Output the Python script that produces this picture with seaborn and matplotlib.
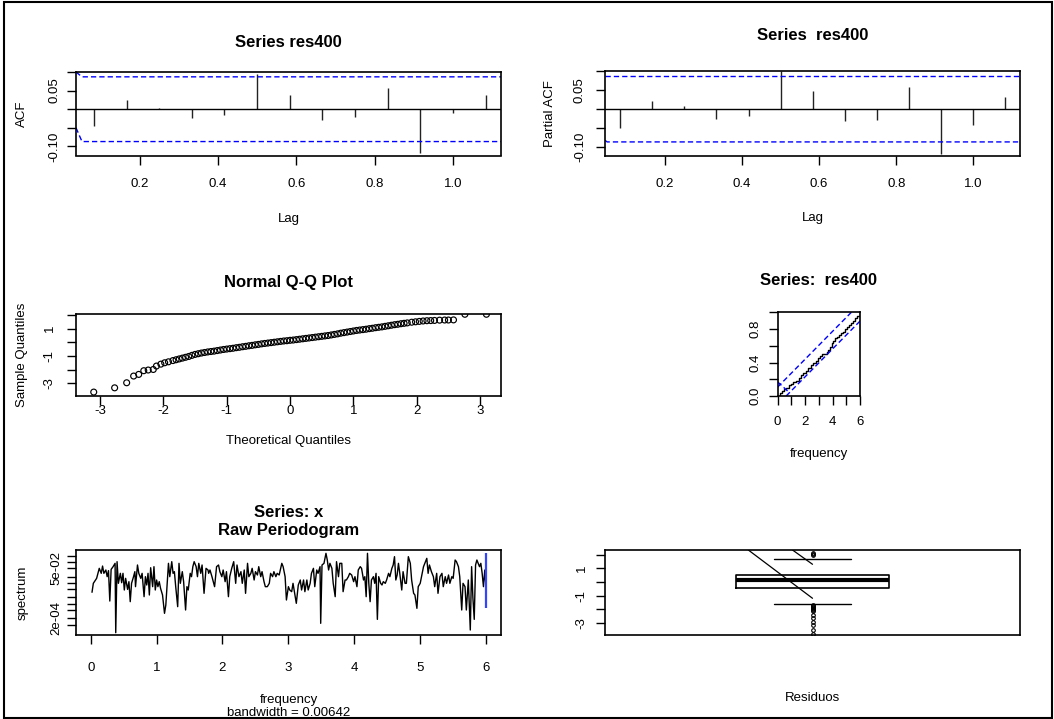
import numpy as np
import pandas as pd
import matplotlib
matplotlib.use("Agg")
import matplotlib.pyplot as plt
import seaborn as sns
from matplotlib.patches import Rectangle

# ---------------- data ----------------
# ACF / PACF of the residuals (monthly series, lag axis in years)
lag_steps = [1, 2, 3, 4, 5, 6, 7, 8, 9, 10, 11, 12, 13]
acf_values = [-0.045, 0.025, 0.004, -0.024, -0.015, 0.095, 0.037, -0.028,
              -0.021, 0.056, -0.117, -0.011, 0.038]
pacf_values = [-0.051, 0.022, 0.007, -0.025, -0.018, 0.100, 0.047, -0.032,
               -0.030, 0.059, -0.118, -0.041, 0.033]
ci_bound = 0.087
# confidence lines as drawn (slanted start, then flat)
ci_upper_x = [0.0377, 0.053, 1.2]
ci_upper_y = [0.100, ci_bound, ci_bound]
ci_lower_x = [0.0377, 0.053, 1.2]
ci_lower_y = [-0.050, -ci_bound, -ci_bound]
pci_lower_x = [0.0443, 0.050, 1.2]
pci_lower_y = [-0.083, -ci_bound, -ci_bound]

# Normal Q-Q: theoretical vs sample quantiles
qq_theoretical = [-3.10, -2.77, -2.58, -2.47, -2.39, -2.31, -2.24, -2.16, -2.11, -2.04, -1.98, -1.92,
                  -1.85, -1.80, -1.75, -1.70, -1.65, -1.60, -1.55, -1.50, -1.45, -1.40, -1.35, -1.30,
                  -1.25, -1.20, -1.15, -1.10, -1.05, -1.00, -0.95, -0.90, -0.85, -0.80, -0.75, -0.70,
                  -0.65, -0.60, -0.55, -0.50, -0.45, -0.40, -0.35, -0.30, -0.25, -0.20, -0.15, -0.10,
                  -0.05, 0.00, 0.05, 0.10, 0.15, 0.20, 0.25, 0.30, 0.35, 0.40, 0.45, 0.50, 0.55, 0.60,
                  0.65, 0.70, 0.75, 0.80, 0.85, 0.90, 0.95, 1.00, 1.05, 1.10, 1.15, 1.20, 1.25, 1.30,
                  1.35, 1.40, 1.45, 1.50, 1.55, 1.60, 1.65, 1.70, 1.75, 1.80, 1.85,
                  1.92, 1.98, 2.04, 2.10, 2.16, 2.22, 2.28, 2.36, 2.44, 2.50, 2.58, 2.76, 3.10]
qq_sample = [-3.63, -3.32, -2.95, -2.46, -2.34, -2.07, -2.02, -1.98, -1.73, -1.59, -1.49, -1.42,
             -1.33, -1.27, -1.21, -1.15, -1.09, -1.03, -0.95, -0.88, -0.83, -0.78, -0.74, -0.70,
             -0.67, -0.64, -0.60, -0.56, -0.52, -0.49, -0.46, -0.43, -0.39, -0.36, -0.32, -0.29,
             -0.25, -0.22, -0.18, -0.15, -0.11, -0.08, -0.05, -0.02, 0.01, 0.04, 0.07, 0.10,
             0.12, 0.15, 0.17, 0.20, 0.23, 0.26, 0.29, 0.32, 0.35, 0.38, 0.41, 0.44, 0.47, 0.50,
             0.54, 0.58, 0.62, 0.67, 0.71, 0.75, 0.79, 0.83, 0.87, 0.90, 0.93, 0.96, 1.00, 1.03,
             1.07, 1.10, 1.13, 1.17, 1.21, 1.25, 1.29, 1.32, 1.36, 1.39, 1.42,
             1.47, 1.50, 1.53, 1.56, 1.58, 1.59, 1.60, 1.62, 1.63, 1.63, 1.64, 2.05, 2.05]

# cumulative periodogram
cp_freq = [0.0, 0.15, 0.3, 0.45, 0.6, 0.8, 0.95, 1.16, 1.35, 1.53, 1.7, 1.89, 2.05, 2.25,
           2.45, 2.6, 2.8, 2.98, 3.1, 3.22, 3.35, 3.46, 3.58, 3.7, 3.82, 3.95, 4.07, 4.19,
           4.35, 4.5, 4.62, 4.75, 4.9, 5.04, 5.2, 5.33, 5.5, 5.64, 5.8, 6.0]
cp_value = [0.0, 0.03, 0.06, 0.08, 0.10, 0.13, 0.14, 0.17, 0.18, 0.21, 0.25, 0.28, 0.30, 0.33,
            0.37, 0.39, 0.42, 0.45, 0.48, 0.50, 0.50, 0.50, 0.52, 0.55, 0.59, 0.63, 0.66, 0.69,
            0.70, 0.73, 0.75, 0.77, 0.80, 0.83, 0.85, 0.87, 0.90, 0.93, 0.96, 1.0]
cp_crit = 0.105
cp_extra_x = [0.0, 0.8]
cp_extra_y = [0.17, 0.05]

# raw periodogram (frequency, log10 spectrum)
pg_freq = [0.02, 0.04, 0.09, 0.13, 0.16, 0.18, 0.20, 0.23, 0.25, 0.27, 0.29, 0.31, 0.34, 0.37, 0.38,
           0.40, 0.42, 0.45, 0.47, 0.49, 0.51, 0.53, 0.56, 0.58, 0.60, 0.62, 0.65, 0.67, 0.68, 0.71,
           0.73, 0.76, 0.78, 0.81, 0.83, 0.85, 0.87, 0.89, 0.91, 0.94, 0.96, 0.98, 1.00, 1.02, 1.04,
           1.06, 1.09, 1.12, 1.14, 1.16, 1.18, 1.20, 1.23, 1.25, 1.27, 1.29, 1.32, 1.34, 1.36, 1.39,
           1.41, 1.44, 1.46, 1.48, 1.51, 1.53, 1.55, 1.57, 1.60, 1.62, 1.64, 1.67, 1.69, 1.72, 1.75,
           1.78, 1.79, 1.81, 1.84, 1.88, 1.91, 1.94, 1.96, 1.99, 2.01, 2.04, 2.06, 2.09, 2.11, 2.14,
           2.17, 2.20, 2.22, 2.25, 2.28, 2.30, 2.33, 2.35, 2.38, 2.40, 2.43, 2.45, 2.48, 2.50, 2.53,
           2.55, 2.58, 2.60, 2.63, 2.65, 2.68, 2.71, 2.73, 2.76, 2.78, 2.81, 2.83, 2.86, 2.90, 2.92,
           2.95, 2.97, 3.00, 3.02, 3.05, 3.07, 3.10, 3.12, 3.15, 3.18, 3.20, 3.23, 3.25, 3.28, 3.30,
           3.33, 3.35, 3.38, 3.40, 3.43, 3.45, 3.48, 3.49, 3.51, 3.54, 3.57, 3.59, 3.61, 3.63, 3.66,
           3.68, 3.71, 3.73, 3.76, 3.78, 3.81, 3.83, 3.86, 3.88, 3.91, 3.93, 3.96, 3.99, 4.01, 4.04,
           4.06, 4.09, 4.11, 4.14, 4.16, 4.18, 4.20, 4.22, 4.24, 4.26, 4.29, 4.31, 4.33, 4.35, 4.37,
           4.40, 4.42, 4.44, 4.47, 4.49, 4.52, 4.54, 4.57, 4.59, 4.61, 4.63, 4.65, 4.67, 4.69, 4.72,
           4.74, 4.77, 4.79, 4.82, 4.85, 4.87, 4.90, 4.92, 4.95, 4.97, 5.00, 5.02, 5.05, 5.07, 5.10,
           5.12, 5.14, 5.17, 5.20, 5.22, 5.25, 5.27, 5.30, 5.33, 5.35, 5.38, 5.40, 5.43, 5.45, 5.48,
           5.50, 5.53, 5.55, 5.58, 5.60, 5.63, 5.65, 5.68, 5.70, 5.73, 5.76, 5.78, 5.80, 5.82, 5.84,
           5.86, 5.88, 5.90, 5.92, 5.94, 5.96, 5.98, 6.00]
pg_log10 = [-2.45, -2.02, -1.78, -1.30, -1.54, -1.19, -1.54, -1.38, -1.70, -1.41, -2.87, -1.35, -1.22, -1.06, -4.39,
            -0.98, -2.02, -1.54, -1.99, -1.54, -2.34, -1.78, -2.31, -1.94, -2.90, -2.02, -1.70, -1.46, -2.18, -1.14,
            -1.54, -1.78, -1.54, -2.66, -1.70, -2.10, -1.54, -2.58, -1.27, -2.18, -1.22, -2.34, -1.86, -2.18, -1.94,
            -2.26, -2.58, -3.46, -3.06, -2.02, -1.06, -1.70, -0.98, -1.54, -1.46, -2.18, -3.14, -1.06, -2.02, -1.46,
            -1.94, -3.30, -2.18, -2.34, -1.54, -1.70, -1.22, -0.98, -1.22, -1.70, -1.06, -1.54, -1.14, -2.50, -1.30,
            -1.38, -1.54, -1.38, -1.70, -2.18, -1.22, -1.14, -1.46, -1.70, -1.38, -1.94, -1.46, -2.66, -1.70, -1.30,
            -0.98, -2.02, -1.14, -1.70, -1.46, -2.02, -1.38, -2.50, -1.06, -1.70, -1.54, -1.30, -1.86, -1.46, -1.62,
            -1.22, -1.70, -1.46, -1.94, -2.18, -2.18, -2.02, -1.54, -1.70, -1.46, -1.70, -1.54, -1.62, -1.06, -1.22,
            -1.70, -2.82, -2.18, -2.34, -2.42, -2.02, -2.58, -2.98, -2.10, -1.86, -2.34, -1.86, -2.42, -1.86, -2.34,
            -2.02, -1.54, -1.30, -2.18, -1.38, -1.54, -1.22, -3.94, -1.14, -1.06, -0.58, -0.90, -1.38, -1.06, -1.30,
            -2.02, -2.66, -0.98, -1.70, -1.06, -1.06, -2.42, -1.86, -1.86, -1.70, -1.54, -1.62, -1.94, -1.70, -2.18,
            -1.38, -1.22, -1.30, -1.86, -1.70, -2.66, -0.58, -2.02, -2.90, -1.86, -1.70, -2.02, -1.54, -3.75, -1.70,
            -2.02, -2.10, -1.94, -2.02, -1.86, -1.54, -1.70, -1.30, -1.14, -0.74, -1.86, -1.62, -1.06, -1.54, -2.34,
            -1.46, -2.02, -2.02, -0.74, -1.06, -1.86, -2.50, -2.58, -3.22, -2.18, -2.02, -1.70, -1.22, -1.06, -0.82,
            -1.54, -1.14, -1.46, -1.70, -2.18, -1.54, -2.50, -1.70, -1.54, -2.18, -1.70, -2.02, -1.62, -2.02, -1.70,
            -1.78, -0.90, -0.98, -1.22, -1.70, -3.30, -2.02, -2.18, -3.30, -1.86, -4.26, -1.22, -2.74, -3.75, -1.14,
            -0.90, -1.06, -1.22, -1.06, -1.54, -2.18, -1.38, -2.26]
pg_ci_log10 = [-3.22, -0.58]

# residual box plot summary
box_q1, box_median, box_q3 = -0.43, 0.12, 0.50
box_whisker_low, box_whisker_high = -1.60, 1.70
box_outliers = [1.98, 2.05, 2.12, -1.72, -1.78, -1.85, -1.92, -1.98, -2.05, -2.10,
                -2.40, -2.65, -2.95, -3.20, -3.50, -3.82]
box_line1_x, box_line1_y = [0.833, 1.0], [2.35, -1.20]
box_line2_x, box_line2_y = [0.948, 1.0], [2.35, 1.30]

# ---------------- styling ----------------
W, H = 1054, 719
sns.set_theme(style="ticks")
plt.rcParams["font.family"] = ["Liberation Sans", "DejaVu Sans"]
plt.rcParams["axes.edgecolor"] = "black"
plt.rcParams["axes.linewidth"] = 1.2
plt.rcParams["xtick.color"] = "black"
plt.rcParams["ytick.color"] = "black"
plt.rcParams["text.color"] = "black"

fig = plt.figure(figsize=(W / 100, H / 100), dpi=100)
fig.patch.set_facecolor("white")

TICK_FS = 9.5
LAB_FS = 9.5
TITLE_FS = 12


def make_axes(l, t, r, b):
    ax = fig.add_axes([l / W, 1 - b / H, (r - l) / W, (b - t) / H])
    ax.set_facecolor("white")
    for s in ax.spines.values():
        s.set_visible(True)
        s.set_color("black")
        s.set_linewidth(1.2)
    ax.tick_params(direction="out", length=6.5, width=1.0, labelsize=TICK_FS, colors="black")
    ax.set_xlabel("")
    ax.set_ylabel("")
    return ax


def yticks(ax, ticks, labels, pad):
    ax.set_yticks(ticks)
    ax.set_yticklabels(labels, rotation=90, va="center")
    ax.tick_params(axis="y", pad=pad)


def xticks(ax, ticks, labels, pad):
    ax.set_xticks(ticks)
    ax.set_xticklabels(labels)
    ax.tick_params(axis="x", pad=pad)


def text(x, y, s, **kw):
    fig.text(x / W, 1 - y / H, s, **kw)


def title(x, y, s):
    text(x, y, s, ha="center", va="baseline", fontsize=TITLE_FS, fontweight="bold")


def xlab(x, y, s):
    text(x, y, s, ha="center", va="baseline", fontsize=LAB_FS)


def ylab(x, y, s):
    text(x, y, s, ha="center", va="baseline", rotation=90, rotation_mode="anchor", fontsize=LAB_FS)


lags = np.array(lag_steps) / 12.0
dash = (0, (3.8, 2.2))

# ---- ACF ----
ax = make_axes(76, 72, 501, 155.5)
ax.vlines(lags, 0, acf_values, color="#222222", lw=1.0)
ax.axhline(0, color="black", lw=1.0)
ax.plot(ci_upper_x, ci_upper_y, color="#0000ff", lw=1.0, ls=dash)
ax.plot(ci_lower_x, ci_lower_y, color="#0000ff", lw=1.0, ls=dash)
ax.set_xlim(0.0377, 1.1225)
ax.set_ylim(-0.1245, 0.100)
xticks(ax, [0.2, 0.4, 0.6, 0.8, 1.0], ["0.2", "0.4", "0.6", "0.8", "1.0"], 9.5)
yticks(ax, [-0.10, -0.05, 0.0, 0.05, 0.10], ["-0.10", "", "", "0.05", ""], 5)
title(288.5, 46.7, "Series res400")
xlab(288.5, 221.7, "Lag")
ylab(25, 113.7, "ACF")

# ---- PACF ----
ax = make_axes(605, 71, 1020, 155.5)
ax.vlines(lags, 0, pacf_values, color="#222222", lw=1.0)
ax.axhline(0, color="black", lw=1.0)
ax.axhline(ci_bound, color="#0000ff", lw=1.0, ls=dash)
ax.plot(pci_lower_x, pci_lower_y, color="#0000ff", lw=1.0, ls=dash)
ax.set_xlim(0.0443, 1.121)
ax.set_ylim(-0.123, 0.101)
xticks(ax, [0.2, 0.4, 0.6, 0.8, 1.0], ["0.2", "0.4", "0.6", "0.8", "1.0"], 9.5)
yticks(ax, [-0.10, -0.05, 0.0, 0.05, 0.10], ["-0.10", "", "", "0.05", ""], 7.2)
title(812.5, 40, "Series  res400")
xlab(812.5, 220.7, "Lag")
ylab(553.3, 113.3, "Partial ACF")

# ---- Normal Q-Q ----
ax = make_axes(76, 314, 501, 395.5)
qq = pd.DataFrame({"theoretical": qq_theoretical, "sample": qq_sample})
sns.scatterplot(data=qq, x="theoretical", y="sample", ax=ax, marker="o", s=18,
                facecolor="none", edgecolor="black", linewidth=0.85)
ax.set_xlabel("")
ax.set_ylabel("")
ax.set_xlim(-3.38, 3.33)
ax.set_ylim(-3.88, 2.07)
xticks(ax, [-3, -2, -1, 0, 1, 2, 3], ["-3", "-2", "-1", "0", "1", "2", "3"], 0.5)
yticks(ax, [-3, -2, -1, 0, 1, 2], ["-3", "", "-1", "", "1", ""], 8)
title(288.5, 287.3, "Normal Q-Q Plot")
xlab(288.5, 444, "Theoretical Quantiles")
ylab(25.5, 354.7, "Sample Quantiles")

# ---- cumulative periodogram ----
ax = make_axes(777.5, 312.3, 860, 396)
cp = pd.DataFrame({"frequency": cp_freq, "cum": cp_value})
sns.lineplot(data=cp, x="frequency", y="cum", ax=ax, color="black", lw=1.0,
             drawstyle="steps-post", estimator=None)
ax.plot([0, 6 * (1 - cp_crit)], [cp_crit, 1], color="#0000ff", lw=1.0, ls=dash)
ax.plot([6 * cp_crit, 6], [0, 1 - cp_crit], color="#0000ff", lw=1.0, ls=dash)
ax.plot(cp_extra_x, cp_extra_y, color="#0000ff", lw=1.0, ls=dash)
ax.set_xlabel("")
ax.set_ylabel("")
ax.set_xlim(0, 6)
ax.set_ylim(0, 1)
xticks(ax, [0, 1, 2, 3, 4, 5, 6], ["0", "", "2", "", "4", "", "6"], 7.8)
yticks(ax, [0, 0.2, 0.4, 0.6, 0.8, 1.0], ["0.0", "", "0.4", "", "0.8", ""], 5.3)
title(818.75, 285, "Series:  res400")
xlab(818.75, 456.7, "frequency")

# ---- raw periodogram ----
ax = make_axes(76, 550, 501, 635)
pg = pd.DataFrame({"frequency": pg_freq, "spectrum": 10 ** np.array(pg_log10)})
sns.lineplot(data=pg, x="frequency", y="spectrum", ax=ax, color="black", lw=1.0, estimator=None)
ax.set_yscale("log")
ax.vlines(6.0, 10 ** pg_ci_log10[0], 10 ** pg_ci_log10[1], color="#3344ff", lw=1.6)
ax.set_xlabel("")
ax.set_ylabel("")
ax.set_xlim(-0.223, 6.226)
ax.set_ylim(10 ** -4.5, 10 ** -0.42)
xticks(ax, [0, 1, 2, 3, 4, 5, 6], ["0", "1", "2", "3", "4", "5", "6"], 12.8)
ylog_ticks = [1e-4, 2e-4, 5e-4, 1e-3, 2e-3, 5e-3, 1e-2, 2e-2, 5e-2, 1e-1, 2e-1]
ylog_labels = ["", "2e-04", "", "", "", "", "", "", "5e-02", "", ""]
ax.yaxis.set_minor_locator(matplotlib.ticker.NullLocator())
yticks(ax, ylog_ticks, ylog_labels, 3)
title(288.5, 516.7, "Series: x")
title(288.5, 535, "Raw Periodogram")
xlab(288.5, 703.3, "frequency")
xlab(288.5, 716.5, "bandwidth = 0.00642")
ylab(26, 592.5, "spectrum")

# ---- residual box plot ----
ax = make_axes(605, 550, 1020, 635)
stats = [dict(med=box_median, q1=box_q1, q3=box_q3, whislo=box_whisker_low,
              whishi=box_whisker_high, fliers=np.array(box_outliers), label="")]
ax.bxp(stats, positions=[1], widths=0.4, capwidths=0.2, showfliers=True,
       boxprops=dict(color="black", lw=1.2),
       medianprops=dict(color="black", lw=3.0),
       whiskerprops=dict(color="black", lw=0.0),
       capprops=dict(color="black", lw=1.0),
       flierprops=dict(marker="o", markersize=2.6, markerfacecolor="none",
                       markeredgecolor="black", markeredgewidth=0.8))
ax.plot(box_line1_x, box_line1_y, color="black", lw=0.9)
ax.plot(box_line2_x, box_line2_y, color="black", lw=0.9)
ax.set_xlim(0.46, 1.54)
ax.set_ylim(-3.9, 2.35)
ax.set_xticks([])
yticks(ax, [-3, -2, -1, 0, 1, 2], ["-3", "", "-1", "", "1", ""], 6)
xlab(812.5, 701, "Residuos")

# outer frame of the page
fig.patches.append(Rectangle((4 / W, 1 / H), 1 - 6 / W, 1 - 3 / H, transform=fig.transFigure,
                             fill=False, edgecolor="black", lw=1.5))

fig.savefig("out.png", dpi=100, facecolor="white")
